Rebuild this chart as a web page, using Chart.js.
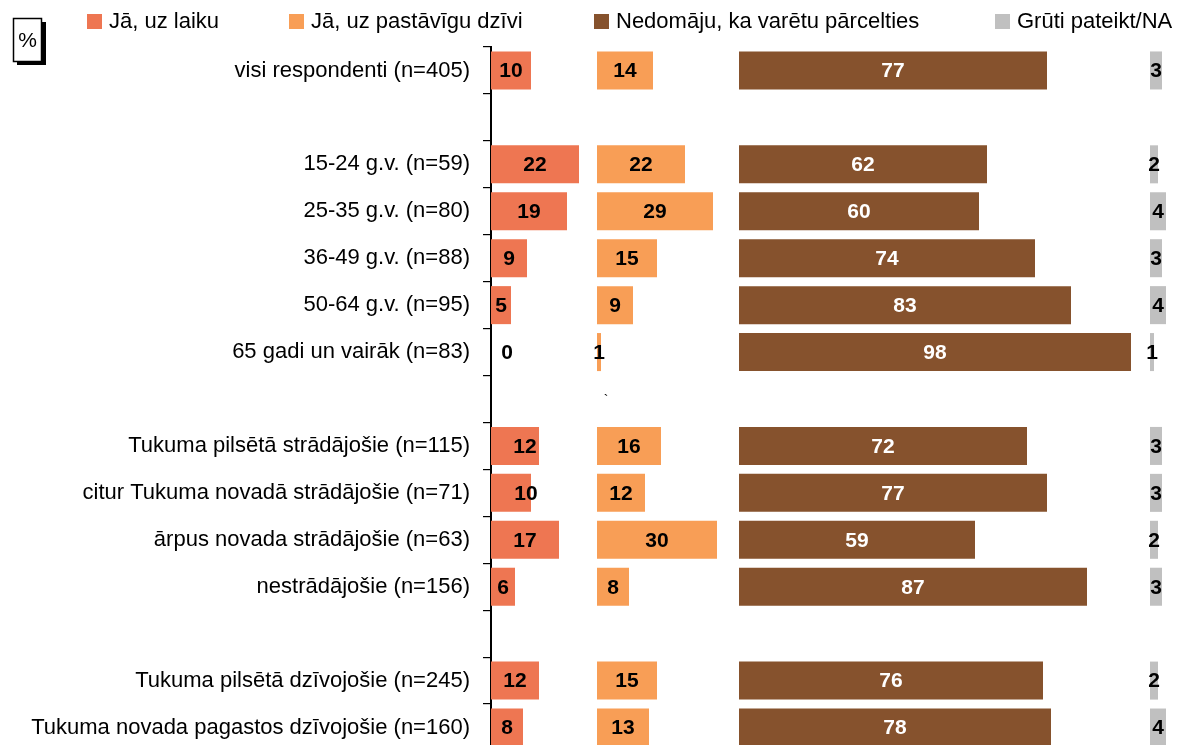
<!DOCTYPE html>
<html><head><meta charset="utf-8">
<script src="https://cdn.jsdelivr.net/npm/chart.js@4.4.1/dist/chart.umd.min.js"></script>
<style>html,body{margin:0;padding:0;background:#fff;overflow:hidden}#wrap{width:1178px;height:745px;position:relative;overflow:hidden}canvas{display:block}</style>
</head><body><div id="wrap"><canvas id="c" width="1178" height="751"></canvas></div>
<script>
// ---- data ----
const categories = [
  "visi respondenti (n=405)", "",
  "15-24 g.v. (n=59)", "25-35 g.v. (n=80)", "36-49 g.v. (n=88)", "50-64 g.v. (n=95)", "65 gadi un vairāk (n=83)", "",
  "Tukuma pilsētā strādājošie (n=115)", "citur Tukuma novadā strādājošie (n=71)", "ārpus novada strādājošie (n=63)", "nestrādājošie (n=156)", "",
  "Tukuma pilsētā dzīvojošie (n=245)", "Tukuma novada pagastos dzīvojošie (n=160)"
];
const seriesNames = ["Jā, uz laiku", "Jā, uz pastāvīgu dzīvi", "Nedomāju, ka varētu pārcelties", "Grūti pateikt/NA"];
const tempValues = [10, null, 22, 19, 9, 5, 0, null, 12, 10, 17, 6, null, 12, 8];
const permValues = [14, null, 22, 29, 15, 9, 1, null, 16, 12, 30, 8, null, 15, 13];
const noValues   = [77, null, 62, 60, 74, 83, 98, null, 72, 77, 59, 87, null, 76, 78];
const naValues   = [3, null, 2, 4, 3, 4, 1, null, 3, 3, 2, 3, null, 2, 4];
const unitLabel = "%";
const strayMark = "`";

// ---- layout / style ----
const PANEL_START = [0, 26.5, 62, 164.75];   // where each series' panel begins on the value axis
const X_MAX = 170;
const COLORS = ["#EE7652", "#F89E56", "#86522D", "#C0C0C0"];
const LABEL_COLORS = ["#000", "#000", "#fff", "#000"];
const LEGEND_X = [87, 289, 594, 995];
const LABEL_NUDGE = { "0-8": 10, "0-9": 15 };   // px shifts of single labels
const FONT = "'Liberation Sans', Arial, sans-serif";

const seriesValues = [tempValues, permValues, noValues, naValues];

const datasets = seriesValues.map((vals, k) => ({
  label: seriesNames[k],
  data: vals.map(v => v == null ? null : [PANEL_START[k], PANEL_START[k] + v]),
  backgroundColor: COLORS[k],
  borderWidth: 0,
  borderSkipped: false,
  barPercentage: 0.81,
  categoryPercentage: 1,
  grouped: false
}));

const labelPlugin = {
  id: 'barLabels',
  afterDatasetsDraw(chart) {
    const ctx = chart.ctx;
    ctx.save();
    ctx.font = "bold 21px " + FONT;
    ctx.textAlign = 'center';
    ctx.textBaseline = 'middle';
    chart.data.datasets.forEach((ds, k) => {
      const meta = chart.getDatasetMeta(k);
      meta.data.forEach((el, i) => {
        const v = seriesValues[k][i];
        if (v == null) return;
        let x = (el.x + el.base) / 2;
        if (v === 0) x += 16;
        x += LABEL_NUDGE[k + "-" + i] || 0;
        ctx.fillStyle = LABEL_COLORS[k];
        ctx.fillText(String(v), x, el.y + 1);
      });
    });
    const xs = chart.scales.x, ys = chart.scales.y;
    ctx.font = "14px " + FONT;
    ctx.fillStyle = "#000";
    ctx.fillText(strayMark, xs.getPixelForValue(PANEL_START[1]) + 9, ys.getPixelForValue(7) + 2);
    ctx.restore();
  }
};

const legendPlugin = {
  id: 'customLegend',
  afterDraw(chart) {
    const ctx = chart.ctx;
    ctx.save();
    ctx.font = "22px " + FONT;
    ctx.textBaseline = 'middle';
    ctx.textAlign = 'left';
    seriesNames.forEach((name, k) => {
      const x = LEGEND_X[k];
      ctx.fillStyle = COLORS[k];
      ctx.fillRect(x, 14, 15, 15);
      ctx.fillStyle = "#000";
      ctx.fillText(name, x + 22, 22);
    });
    ctx.fillStyle = "#000";
    ctx.fillRect(17, 22, 29, 43);
    ctx.fillStyle = "#fff";
    ctx.fillRect(13, 18, 29, 44);
    ctx.strokeStyle = "#000";
    ctx.lineWidth = 1.5;
    ctx.strokeRect(13.5, 18.5, 28, 43);
    ctx.fillStyle = "#000";
    ctx.font = "21px " + FONT;
    ctx.textAlign = 'center';
    ctx.fillText(unitLabel, 27.5, 41);
    ctx.restore();
  }
};

new Chart(document.getElementById('c'), {
  type: 'bar',
  data: { labels: categories, datasets },
  options: {
    indexAxis: 'y',
    responsive: false,
    animation: false,
    devicePixelRatio: 1,
    layout: { padding: { left: 0, top: 47, right: 7, bottom: 0 } },
    plugins: { legend: { display: false }, tooltip: { enabled: false } },
    scales: {
      x: { type: 'linear', min: 0, max: X_MAX, display: false },
      y: {
        type: 'category',
        offset: true,
        grid: { offset: true, drawOnChartArea: false, drawTicks: true, tickLength: 8, color: '#000', lineWidth: 1.2 },
        border: { display: true, color: '#000', width: 2 },
        ticks: { autoSkip: false, color: '#000', padding: 13, font: { family: FONT, size: 22 } },
        afterFit(scale) { scale.width = 491; scale.paddingTop = 0; scale.paddingBottom = 0; }
      }
    }
  },
  plugins: [labelPlugin, legendPlugin]
});
</script>
</body></html>
